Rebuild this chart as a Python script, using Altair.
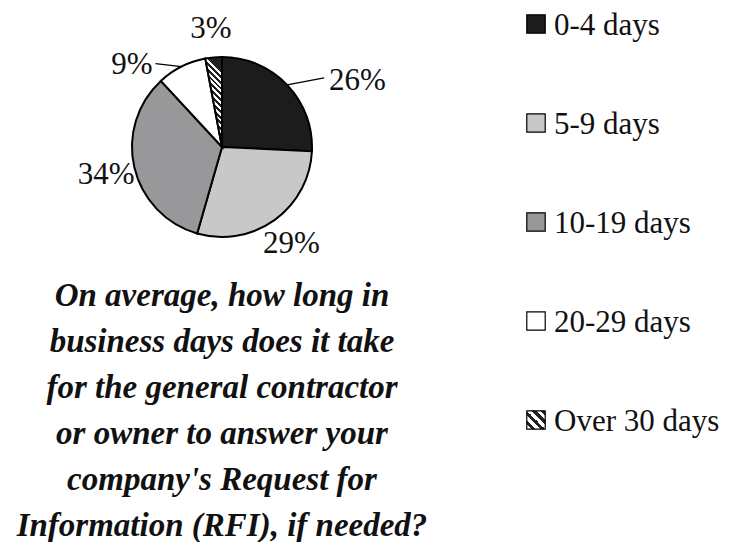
import altair as alt
import pandas as pd

cats = ["0-4 days", "5-9 days", "10-19 days", "20-29 days", "Over 30 days"]
pcts = [26, 29, 34, 9, 3]
labels = ["26%", "29%", "34%", "9%", "3%"]
colors = ["#1c1c1c", "#c8c8c8", "#98989a", "#ffffff", "#ffffff"]
title_lines = [
    "On average, how long in",
    "business days does it take",
    "for the general contractor",
    "or owner to answer your",
    "company's Request for",
    "Information (RFI), if needed?",
]

df = pd.DataFrame({"cat": cats, "pct": pcts, "label": labels, "order": list(range(len(cats)))})

CX, CY, R = 214, 139, 90
FONT = "Liberation Serif"
HATCH_CAT = "Over 30 days"


def stripes(n, x1, y1, x2, y2):
    stops = []
    for i in range(n):
        a, b, c = i / n, (i + 0.5) / n, (i + 1) / n
        stops += [
            {"offset": a, "color": "#222222"},
            {"offset": b, "color": "#222222"},
            {"offset": b, "color": "#ffffff"},
            {"offset": c, "color": "#ffffff"},
        ]
    return {"gradient": "linear", "x1": x1, "y1": y1, "x2": x2, "y2": y2, "stops": stops}


hatch_slice = stripes(16, 0.185, 0, 0, 1)
hatch_icon = stripes(4, 1, 0, 0, 1)

is_hatch = alt.datum.cat == HATCH_CAT
color_scale = alt.Scale(domain=cats, range=colors)

base = alt.Chart(df).encode(
    theta=alt.Theta("pct:Q", stack=True),
    order=alt.Order("order:Q"),
)

pie = base.mark_arc(outerRadius=R, stroke="black", strokeWidth=2).encode(
    fill=alt.condition(is_hatch, alt.value(hatch_slice),
                       alt.Fill("cat:N", scale=color_scale, legend=None)),
    x=alt.value(CX),
    y=alt.value(CY),
)

leader_test = (alt.datum.cat == "0-4 days") | (alt.datum.cat == "20-29 days")

pie_labels = base.mark_text(radius=119, fontSize=31, font=FONT, color="#111111").encode(
    text=alt.Text("label:N"),
    opacity=alt.condition(leader_test, alt.value(0), alt.value(1)),
    x=alt.value(CX),
    y=alt.value(CY),
)

geo = (
    alt.Chart(df)
    .transform_window(cum="sum(pct)", sort=[alt.SortField("order")])
    .transform_joinaggregate(total="sum(pct)")
    .transform_calculate(mid="2*PI*(datum.cum - datum.pct/2)/datum.total")
    .transform_calculate(
        ex=f"{CX} + {R}*sin(datum.mid)",
        ey=f"{CY} - {R}*cos(datum.mid)",
    )
    .transform_filter(leader_test)
    .transform_calculate(
        lx2="datum.ex + (datum.cat == '0-4 days' ? 37 : -26)",
        ly2="datum.ey + (datum.cat == '0-4 days' ? -7 : -3)",
    )
)

leaders = geo.mark_rule(color="black", strokeWidth=1.3).encode(
    x=alt.X("ex:Q", scale=None),
    y=alt.Y("ey:Q", scale=None),
    x2="lx2:Q",
    y2="ly2:Q",
)

lab_right = geo.transform_filter(alt.datum.cat == "0-4 days").mark_text(
    align="left", baseline="middle", dx=5, dy=3, fontSize=31, font=FONT, color="#111111"
).encode(x=alt.X("lx2:Q", scale=None), y=alt.Y("ly2:Q", scale=None), text="label:N")

lab_left = geo.transform_filter(alt.datum.cat == "20-29 days").mark_text(
    align="right", baseline="middle", dx=-3, dy=1, fontSize=31, font=FONT, color="#111111"
).encode(x=alt.X("lx2:Q", scale=None), y=alt.Y("ly2:Q", scale=None), text="label:N")

legend_y = alt.Y("cat:N", scale=alt.Scale(domain=cats, range=[16, 412], padding=0), axis=None)

legend_sq = alt.Chart(df).mark_square(size=340, stroke="black", strokeWidth=1.2, opacity=1).encode(
    x=alt.value(528),
    y=legend_y,
    fill=alt.condition(is_hatch, alt.value(hatch_icon),
                       alt.Fill("cat:N", scale=color_scale, legend=None)),
)

legend_txt = alt.Chart(df).mark_text(
    align="left", baseline="middle", dy=2, fontSize=31, font=FONT, color="#111111"
).encode(x=alt.value(546), y=legend_y, text="cat:N")

title = alt.Chart(pd.DataFrame({"t": [0]})).mark_text(
    text=title_lines,
    align="center",
    baseline="alphabetic",
    lineHeight=46,
    fontSize=33,
    fontWeight="bold",
    fontStyle="italic",
    font=FONT,
    color="#111111",
).encode(x=alt.value(214), y=alt.value(298))

chart = (
    alt.layer(pie, pie_labels, leaders, lab_right, lab_left, legend_sq, legend_txt, title)
    .resolve_scale(x="independent", y="independent")
    .properties(width=715, height=534, padding=0, autosize=alt.AutoSizeParams(type="none"))
    .configure_view(stroke=None)
)

chart.save("out.html", embed_options={"renderer": "svg", "actions": False})
